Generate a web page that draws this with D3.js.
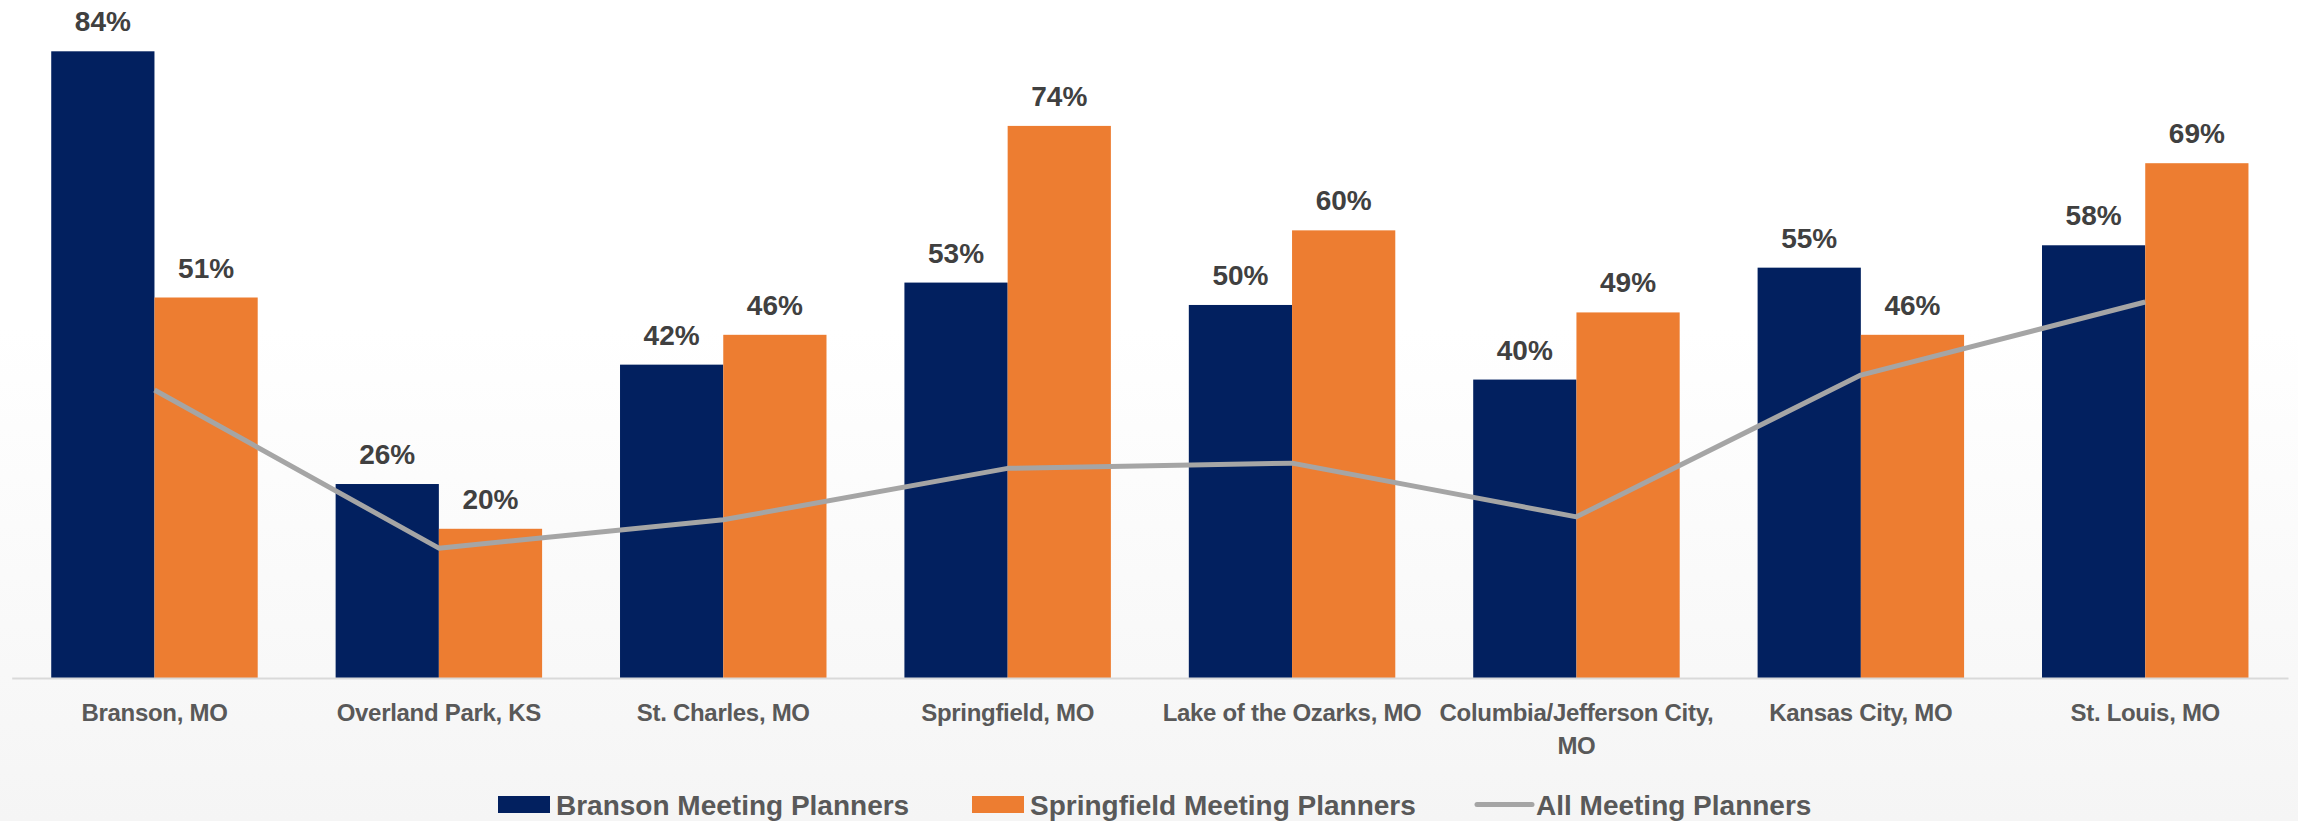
<!DOCTYPE html>
<html>
<head>
<meta charset="utf-8">
<script src="https://cdn.jsdelivr.net/npm/d3@7"></script>
<style>
  html, body { margin: 0; padding: 0; background: #fff; }
  svg { display: block; }
  text { font-family: "Liberation Sans", Arial, sans-serif; font-weight: bold; }
</style>
</head>
<body>
<div id="chart"></div>
<script>
// Destinations (two-line labels split on "\n")
const categories = [
  "Branson, MO",
  "Overland Park, KS",
  "St. Charles, MO",
  "Springfield, MO",
  "Lake of the Ozarks, MO",
  "Columbia/Jefferson City,\nMO",
  "Kansas City, MO",
  "St. Louis, MO"
];
const seriesNames = ["Branson Meeting Planners", "Springfield Meeting Planners", "All Meeting Planners"];
const bransonPlanners = [84, 26, 42, 53, 50, 40, 55, 58];
const springfieldPlanners = [51, 20, 46, 74, 60, 49, 46, 69];
const allPlanners = [38.6, 17.4, 21.2, 28.1, 28.8, 21.6, 40.6, 50.4];

const W = 2298, H = 821;
const colors = { navy: "#02205f", orange: "#ed7d31", grey: "#a5a5a5" };

const svg = d3.select("#chart").append("svg")
  .attr("width", W).attr("height", H);

// soft white-to-grey backdrop
const defs = svg.append("defs");
const grad = defs.append("linearGradient").attr("id", "bg")
  .attr("x1", 0).attr("y1", 0).attr("x2", 0).attr("y2", 1);
grad.append("stop").attr("offset", "0.4").attr("stop-color", "#ffffff");
grad.append("stop").attr("offset", "1").attr("stop-color", "#f5f5f5");
svg.append("rect").attr("width", W).attr("height", H).attr("fill", "url(#bg)");

const baseY = 678;
const x = d3.scaleBand().domain(categories).range([11.7, 2288])
  .paddingInner(0.274).paddingOuter(0.139);
const xSub = d3.scaleBand().domain([0, 1]).range([0, x.bandwidth()]);
const y = d3.scaleLinear().domain([0, 84]).range([baseY, 51.3]);

const rows = categories.map((c, i) => ({ cat: c, vals: [bransonPlanners[i], springfieldPlanners[i]] }));

// bars
const g = svg.append("g");
const groups = g.selectAll("g.cat").data(rows).join("g")
  .attr("class", "cat")
  .attr("transform", d => `translate(${x(d.cat)},0)`);

groups.selectAll("rect").data(d => d.vals.map((v, k) => ({ v, k }))).join("rect")
  .attr("x", d => xSub(d.k))
  .attr("width", xSub.bandwidth())
  .attr("y", d => y(d.v))
  .attr("height", d => baseY - y(d.v))
  .attr("fill", d => d.k === 0 ? colors.navy : colors.orange);

groups.selectAll("text.val").data(d => d.vals.map((v, k) => ({ v, k }))).join("text")
  .attr("class", "val")
  .attr("x", d => xSub(d.k) + xSub.bandwidth() / 2)
  .attr("y", d => y(d.v) - 20)
  .attr("text-anchor", "middle")
  .attr("font-size", 28)
  .attr("fill", "#404040")
  .text(d => d.v + "%");

// category axis
const axis = svg.append("g").attr("transform", `translate(0,${baseY})`)
  .call(d3.axisBottom(x).tickSize(0).tickFormat(""));
axis.select(".domain").attr("stroke", "#d9d9d9").attr("stroke-width", 2);

const labels = svg.append("g").selectAll("text").data(categories).join("text")
  .attr("text-anchor", "middle")
  .attr("font-size", 24)
  .attr("letter-spacing", "-0.3")
  .attr("fill", "#595959")
  .attr("transform", d => `translate(${x(d) + x.bandwidth() / 2},721)`);
labels.each(function(d) {
  const t = d3.select(this);
  d.split("\n").forEach((line, i) => {
    t.append("tspan").attr("x", 0).attr("y", i * 33).text(line);
  });
});

// overall line
const line = d3.line()
  .x((d, i) => x(categories[i]) + x.bandwidth() / 2)
  .y(d => y(d));
svg.append("path").datum(allPlanners)
  .attr("d", line)
  .attr("fill", "none")
  .attr("stroke", colors.grey)
  .attr("stroke-width", 5)
  .attr("stroke-linejoin", "round");

// legend
const legend = svg.append("g");
const legendItems = [
  { name: seriesNames[0], type: "rect", color: colors.navy, sx: 498, tx: 556 },
  { name: seriesNames[1], type: "rect", color: colors.orange, sx: 972, tx: 1030 },
  { name: seriesNames[2], type: "line", color: colors.grey, sx: 1477, tx: 1536 }
];
legendItems.forEach(it => {
  if (it.type === "rect") {
    legend.append("rect").attr("x", it.sx).attr("y", 796).attr("width", 52).attr("height", 17)
      .attr("fill", it.color);
  } else {
    legend.append("line").attr("x1", it.sx).attr("x2", it.sx + 55)
      .attr("y1", 804.5).attr("y2", 804.5)
      .attr("stroke", it.color).attr("stroke-width", 5).attr("stroke-linecap", "round");
  }
  legend.append("text").attr("x", it.tx).attr("y", 815)
    .attr("font-size", 28).attr("fill", "#595959").text(it.name);
});
</script>
</body>
</html>
